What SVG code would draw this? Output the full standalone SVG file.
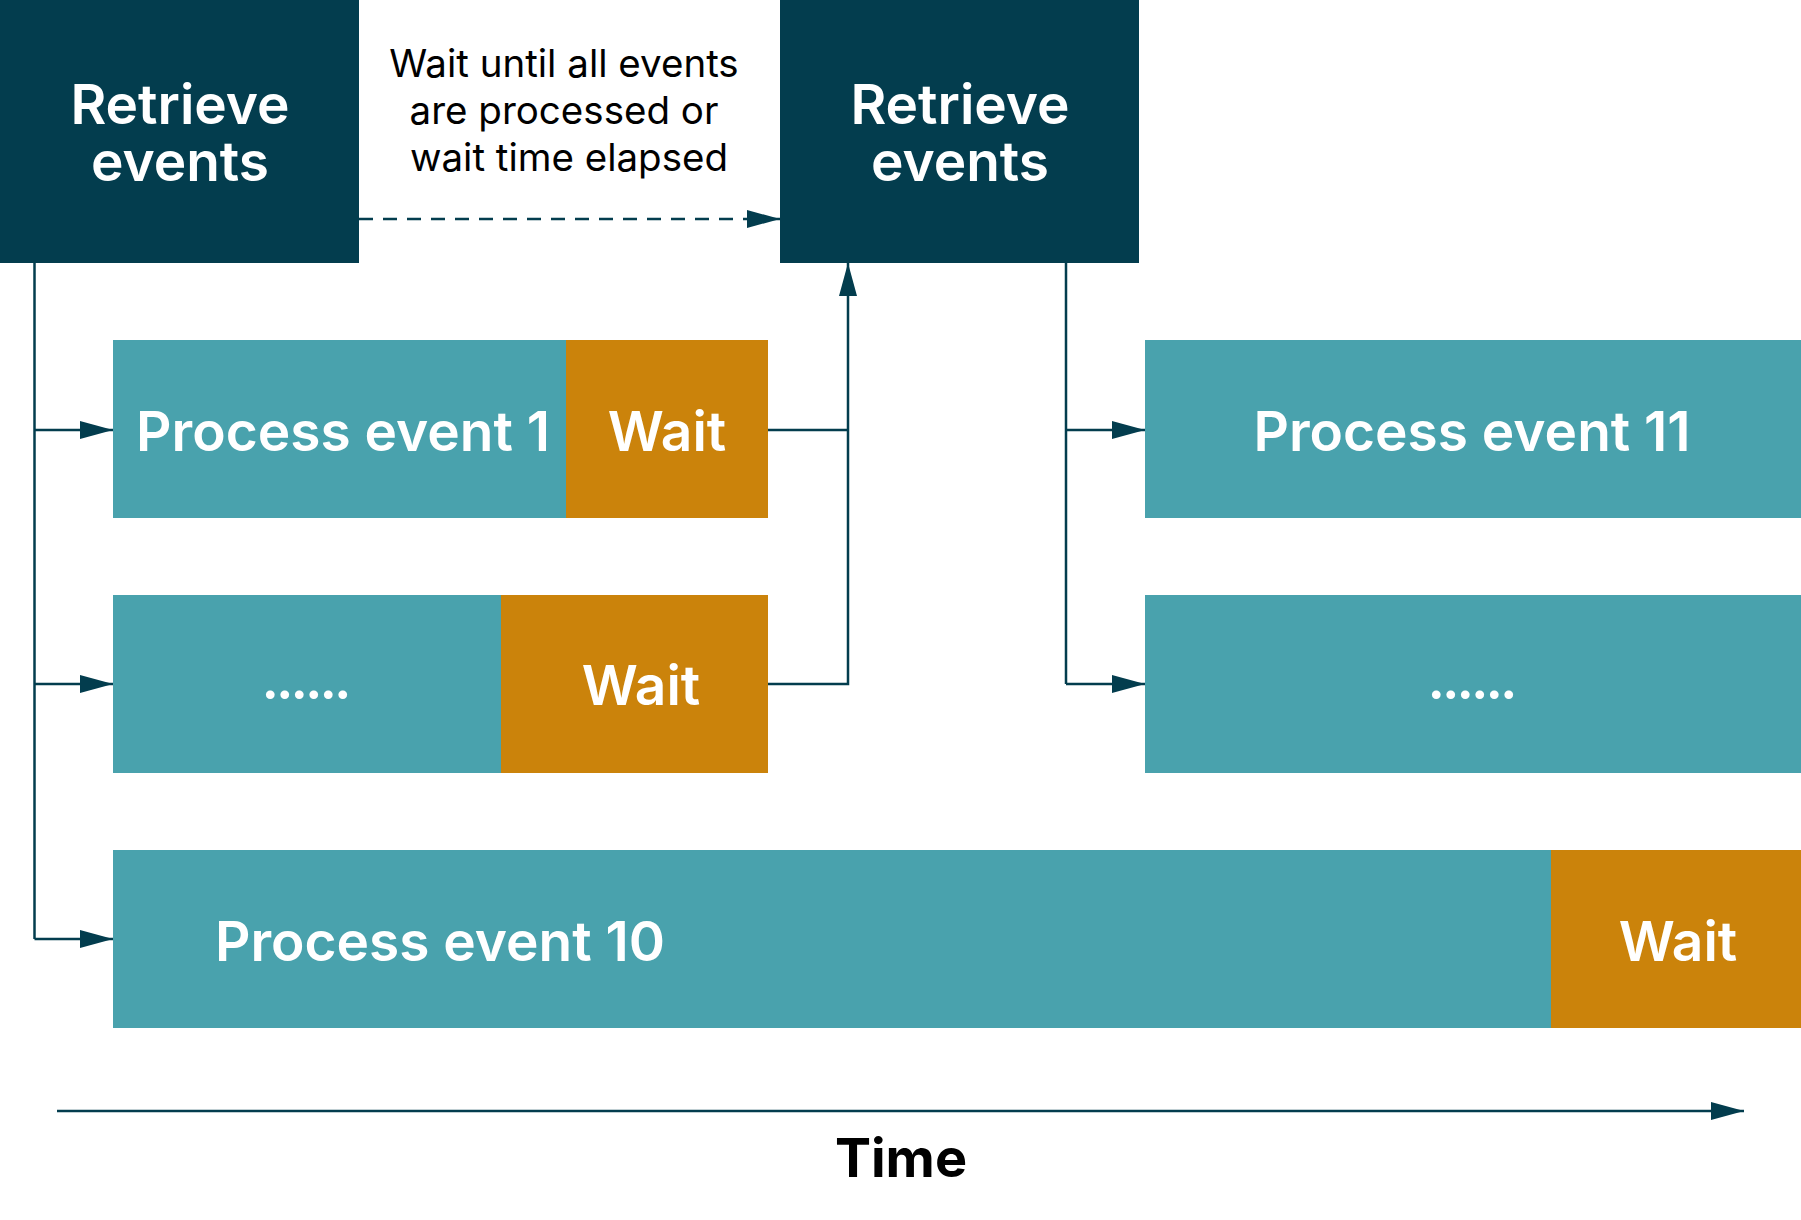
<svg xmlns="http://www.w3.org/2000/svg" width="1801" height="1220" viewBox="0 0 1801 1220">
<style>
.dark{fill:#033d4e}
.proc{fill:#49a2ad}
.wait{fill:#cb830b}
.lbl{font-family:Inter,"Liberation Sans",sans-serif;font-weight:600;fill:#ffffff;text-anchor:middle}
.big{font-size:55px}
.dots{letter-spacing:-3px}
.note{font-family:Inter,"Liberation Sans",sans-serif;font-size:38.5px;fill:#000000;text-anchor:middle}
.time{font-family:Inter,"Liberation Sans",sans-serif;font-size:54px;font-weight:700;fill:#000000;text-anchor:middle}
.ln{fill:none;stroke:#033d4e;stroke-width:2.5}
</style>
<defs>
<marker id="ah" markerUnits="userSpaceOnUse" markerWidth="34" markerHeight="20" refX="33" refY="9" orient="auto">
<path d="M0,0 L33,9 L0,18 Z" fill="#033d4e"/>
</marker>
</defs>
<rect width="1801" height="1220" fill="#ffffff"/>
<g id="retrieve1">
<rect class="dark" x="0" y="0" width="359" height="263"/>
<text class="lbl big" x="180" y="124">Retrieve</text>
<text class="lbl big" x="180" y="181">events</text>
</g>
<g id="retrieve2">
<rect class="dark" x="780" y="0" width="359" height="263"/>
<text class="lbl big" x="960" y="124">Retrieve</text>
<text class="lbl big" x="960" y="181">events</text>
</g>
<g id="note">
<text class="note" x="564" y="77">Wait until all events</text>
<text class="note" x="564" y="124">are processed or</text>
<text class="note" x="569" y="171">wait time elapsed</text>
</g>
<g id="row1">
<rect class="proc" x="113" y="340" width="454" height="178"/>
<rect class="wait" x="566" y="340" width="202" height="178"/>
<text class="lbl big" x="343" y="451">Process event 1</text>
<text class="lbl big" x="667" y="451">Wait</text>
</g>
<g id="row2">
<rect class="proc" x="113" y="595" width="389" height="178"/>
<rect class="wait" x="501" y="595" width="267" height="178"/>
<text class="lbl big dots" x="305" y="699">......</text>
<text class="lbl big" x="641" y="705">Wait</text>
</g>
<g id="row3">
<rect class="proc" x="113" y="850" width="1439" height="178"/>
<rect class="wait" x="1551" y="850" width="250" height="178"/>
<text class="lbl big" x="440" y="961">Process event 10</text>
<text class="lbl big" x="1678" y="961">Wait</text>
</g>
<g id="row1r">
<rect class="proc" x="1145" y="340" width="656" height="178"/>
<text class="lbl big" x="1472" y="451">Process event 11</text>
</g>
<g id="row2r">
<rect class="proc" x="1145" y="595" width="656" height="178"/>
<text class="lbl big dots" x="1471" y="699">......</text>
</g>
<g id="connectors">
<path class="ln" d="M359,219 H780" stroke-dasharray="14 10" marker-end="url(#ah)"/>
<path class="ln" d="M34.5,263 V939"/>
<path class="ln" d="M34.5,430 H113" marker-end="url(#ah)"/>
<path class="ln" d="M34.5,684 H113" marker-end="url(#ah)"/>
<path class="ln" d="M34.5,939 H113" marker-end="url(#ah)"/>
<path class="ln" d="M768,430 H848"/>
<path class="ln" d="M768,684 H848 V263" marker-end="url(#ah)"/>
<path class="ln" d="M1066,263 V684"/>
<path class="ln" d="M1066,430 H1145" marker-end="url(#ah)"/>
<path class="ln" d="M1066,684 H1145" marker-end="url(#ah)"/>
<path class="ln" d="M57,1111 H1744" stroke-width="3.5" marker-end="url(#ah)"/>
</g>
<g id="axis-label">
<text class="time" x="901" y="1177">Time</text>
</g>
</svg>
